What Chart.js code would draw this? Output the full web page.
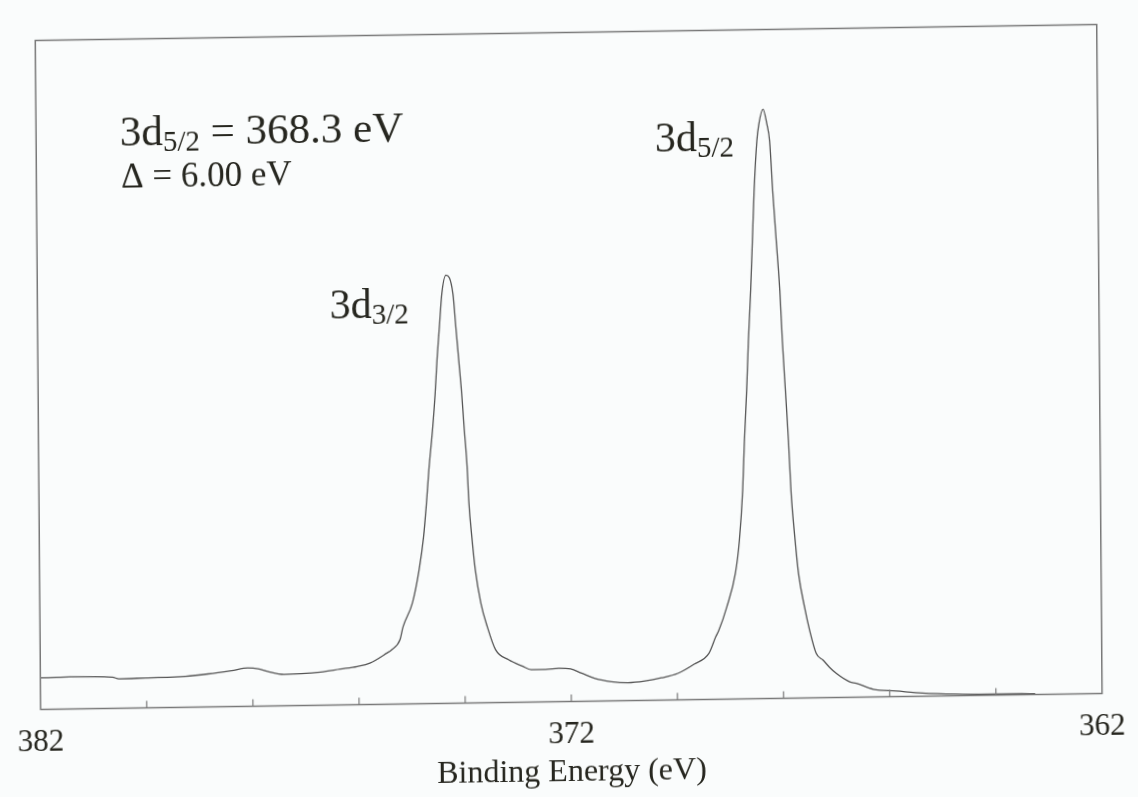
<!DOCTYPE html>
<html>
<head>
<meta charset="utf-8">
<title>XPS 3d spectrum</title>
<script src="https://cdn.jsdelivr.net/npm/chart.js@4/dist/chart.umd.min.js"></script>
<style>
  html, body { margin: 0; padding: 0; background: #fafcfc; overflow: hidden; }
  #wrap { width: 1138px; height: 797px; }
  /* the printed spectrum sits slightly askew on the page */
  #xps { display: block; transform: matrix(1, -0.015, 0.008, 1, 0, 0); transform-origin: 50% 50%; }
</style>
</head>
<body>
<div id="wrap"><canvas id="xps" width="1138" height="797"></canvas></div>
<script>
// Binding energy (eV), high to low as the spectrum is recorded
const bindingEnergy = [
  382.00, 381.95, 381.45, 380.64, 380.52, 380.02, 379.27, 378.84, 378.40, 378.09,
  377.90, 377.72, 377.41, 377.09, 376.72, 376.35, 376.03, 375.79, 375.47, 375.38,
  375.22, 375.16, 374.98, 374.85, 374.76, 374.70, 374.65, 374.57, 374.52, 374.48,
  374.43, 374.38, 374.30, 374.17, 374.12, 374.07, 374.02, 373.98, 373.93, 373.90,
  373.85, 373.79, 373.69, 373.57, 373.42, 373.17, 372.92, 372.75, 372.48, 372.23,
  372.01, 371.80, 371.55, 371.24, 370.93, 370.61, 370.30, 369.99, 369.68, 369.40,
  369.27, 369.21, 369.06, 368.89, 368.81, 368.74, 368.70, 368.65, 368.61, 368.56,
  368.52, 368.48, 368.42, 368.38, 368.30, 368.23, 368.18, 368.13, 368.07, 368.01,
  367.97, 367.92, 367.87, 367.83, 367.76, 367.70, 367.59, 367.50, 367.38, 367.25,
  367.13, 367.00, 366.75, 366.63, 366.31, 365.88, 365.38, 364.75, 364.13, 363.51,
  363.26
];

// Photoelectron intensity (arbitrary units, 0-100 full scale)
const intensity = [
  4.75, 4.73, 4.81, 4.65, 4.39, 4.48, 4.63, 4.93, 5.37, 5.73,
  5.60, 5.18, 4.69, 4.75, 4.96, 5.36, 5.71, 6.18, 7.64, 8.12,
  9.59, 11.52, 15.08, 19.99, 24.90, 29.97, 34.90, 41.35, 46.30, 51.30,
  56.30, 61.20, 64.00, 61.20, 56.20, 51.25, 46.30, 41.30, 35.50, 29.90,
  24.80, 19.90, 14.90, 11.30, 7.90, 6.35, 5.40, 4.85, 4.85, 4.99,
  4.86, 4.19, 3.38, 2.87, 2.68, 2.90, 3.33, 3.96, 5.30, 6.90,
  9.33, 10.30, 13.70, 18.80, 23.70, 31.20, 38.60, 46.10, 53.50, 61.00,
  68.40, 75.90, 83.40, 85.90, 88.10, 85.90, 83.30, 75.90, 68.40, 60.90,
  53.40, 46.00, 38.50, 31.00, 23.60, 18.60, 13.50, 10.10, 6.65, 5.60,
  4.53, 3.58, 2.30, 2.08, 1.15, 0.84, 0.47, 0.25, 0.17, 0.15,
  0.12
];

// Axis: energy range, minor tick spacing and the labelled ticks
const energyRange = [362, 382];
const tickStep = 2;
const labeledTicks = [382, 372, 362];

// Peak assignment
const peak52Energy = 368.3;
const spinOrbitSplitting = 6.00;

const SERIF = '"Liberation Serif", "Times New Roman", serif';
const INK = '#26261f';

function drawRuns(ctx, x, y, runs) {
  let cx = x;
  for (const r of runs) {
    ctx.font = r.size + 'px ' + SERIF;
    ctx.fillText(r.t, cx, y + (r.dy || 0));
    cx += ctx.measureText(r.t).width;
  }
}

// Frame around the plot, inward tick marks and the peak annotations
const spectrumDecor = {
  id: 'spectrumDecor',
  afterDatasetsDraw(chart) {
    const { ctx, chartArea: a, scales: { x } } = chart;
    ctx.save();
    ctx.strokeStyle = '#787878';
    ctx.lineWidth = 1.5;
    ctx.strokeRect(a.left, a.top, a.right - a.left, a.bottom - a.top);

    ctx.lineWidth = 1.2;
    x.ticks.forEach(t => {
      const px = x.getPixelForValue(t.value);
      if (px <= a.left + 1 || px >= a.right - 1) return;
      ctx.beginPath();
      ctx.moveTo(px, a.bottom);
      ctx.lineTo(px, a.bottom - 7);
      ctx.stroke();
    });

    ctx.fillStyle = INK;
    ctx.textBaseline = 'alphabetic';
    ctx.textAlign = 'left';
    drawRuns(ctx, 122, 138.5, [
      { t: '3d', size: 43 },
      { t: '5/2', size: 29, dy: 6 },
      { t: ' = ' + peak52Energy.toFixed(1) + ' eV', size: 43 }
    ]);
    drawRuns(ctx, 123, 181, [
      { t: '\u0394 = ' + spinOrbitSplitting.toFixed(2) + ' eV', size: 35 }
    ]);
    drawRuns(ctx, 657, 153, [
      { t: '3d', size: 42 },
      { t: '5/2', size: 29, dy: 6 }
    ]);
    drawRuns(ctx, 330.5, 314.5, [
      { t: '3d', size: 42 },
      { t: '3/2', size: 29, dy: 6 }
    ]);
    ctx.restore();
  }
};

new Chart(document.getElementById('xps'), {
  type: 'line',
  data: {
    datasets: [{
      data: bindingEnergy.map((e, i) => ({ x: e, y: intensity[i] })),
      borderColor: '#555555',
      borderWidth: 1.3,
      pointRadius: 0,
      cubicInterpolationMode: 'monotone',
      fill: false
    }]
  },
  options: {
    responsive: false,
    animation: false,
    devicePixelRatio: 1,
    layout: { padding: { left: 34.8, right: 32, top: 32.5, bottom: 0 } },
    plugins: { legend: { display: false }, tooltip: { enabled: false } },
    scales: {
      x: {
        type: 'linear',
        reverse: true,
        min: energyRange[0],
        max: energyRange[1],
        grid: { display: false, drawTicks: false },
        border: { display: false },
        afterFit(scale) { scale.height = 95.5; },
        ticks: {
          stepSize: tickStep,
          autoSkip: false,
          maxRotation: 0,
          padding: 15,
          color: INK,
          font: { family: SERIF, size: 31 },
          callback: v => (labeledTicks.includes(v) ? String(v) : '')
        },
        title: {
          display: true,
          text: 'Binding Energy (eV)',
          color: INK,
          font: { family: SERIF, size: 32 },
          padding: { top: 0, bottom: 5 }
        }
      },
      y: { display: false, min: 0, max: 100 }
    }
  },
  plugins: [spectrumDecor]
});
</script>
</body>
</html>
